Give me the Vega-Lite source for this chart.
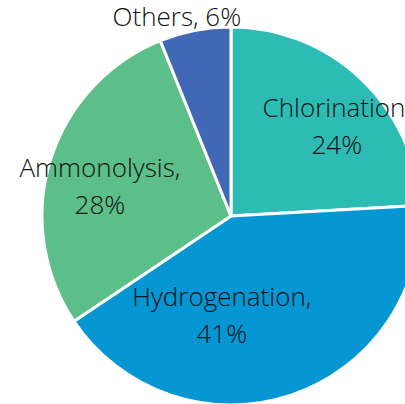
{
  "$schema": "https://vega.github.io/schema/vega-lite/v6.json",
  "width": 462,
  "height": 432,
  "autosize": "none",
  "padding": 0,
  "background": "white",
  "config": {"view": {"stroke": null}},
  "data": {
    "values": [
      {"idx": 1, "cat": "Chlorination", "value": 24.1, "label": "Chlorination,\n24%"},
      {"idx": 2, "cat": "Hydrogenation", "value": 41.5, "label": "Hydrogenation,\n41%"},
      {"idx": 3, "cat": "Ammonolysis", "value": 28.3, "label": "Ammonolysis,\n28%"},
      {"idx": 4, "cat": "Others", "value": 6.1, "label": "Others, 6%"}
    ]
  },
  "encoding": {
    "theta": {"field": "value", "type": "quantitative", "stack": true},
    "order": {"field": "idx", "type": "quantitative"}
  },
  "layer": [
    {
      "mark": {"type": "arc", "outerRadius": 189, "stroke": "white", "strokeWidth": 3},
      "encoding": {
        "color": {
          "field": "cat", "type": "nominal", "legend": null,
          "scale": {
            "domain": ["Chlorination", "Hydrogenation", "Ammonolysis", "Others"],
            "range": ["#2DBCB4", "#0696D3", "#5CBE88", "#4168B4"]
          }
        }
      }
    },
    {
      "mark": {"type": "text", "radius": 138, "dx": 11, "dy": -7, "font": "Open Sans", "fontWeight": 300, "fontSize": 26, "lineHeight": 37, "lineBreak": "\n", "align": "center", "baseline": "middle", "color": "#111111"},
      "encoding": {"text": {"condition": {"test": "datum.cat === 'Chlorination'", "field": "label"}, "value": ""}}
    },
    {
      "mark": {"type": "text", "radius": 100, "dx": -41, "dy": -13, "font": "Open Sans", "fontWeight": 300, "fontSize": 26, "lineHeight": 37, "lineBreak": "\n", "align": "center", "baseline": "middle", "color": "#111111"},
      "encoding": {"text": {"condition": {"test": "datum.cat === 'Hydrogenation'", "field": "label"}, "value": ""}}
    },
    {
      "mark": {"type": "text", "radius": 134, "dx": -3, "dy": -8, "font": "Open Sans", "fontWeight": 300, "fontSize": 26, "lineHeight": 37, "lineBreak": "\n", "align": "center", "baseline": "middle", "color": "#111111"},
      "encoding": {"text": {"condition": {"test": "datum.cat === 'Ammonolysis'", "field": "label"}, "value": ""}}
    },
    {
      "mark": {"type": "text", "radius": 200, "dx": -16, "dy": -2, "font": "Open Sans", "fontWeight": 300, "fontSize": 26, "lineHeight": 37, "lineBreak": "\n", "align": "center", "baseline": "middle", "color": "#111111"},
      "encoding": {"text": {"condition": {"test": "datum.cat === 'Others'", "field": "label"}, "value": ""}}
    }
  ]
}
